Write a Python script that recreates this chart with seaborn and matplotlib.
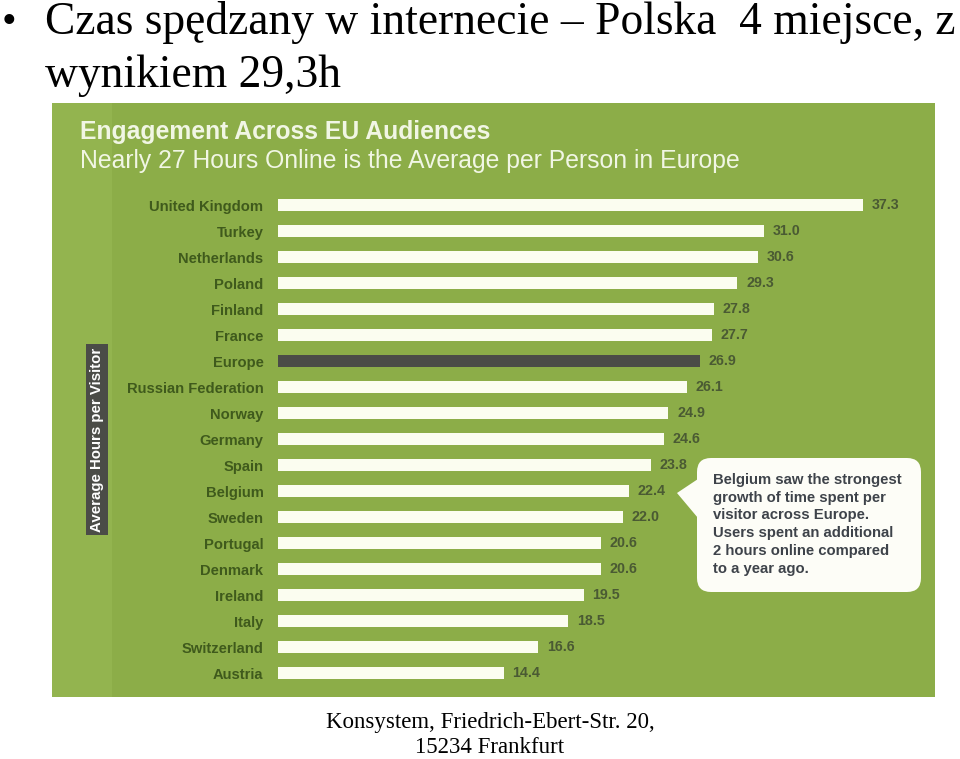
import matplotlib
matplotlib.use("Agg")
import matplotlib.pyplot as plt
import seaborn as sns
import pandas as pd
from matplotlib.patches import Rectangle, FancyBboxPatch, Polygon

# ---- data ----
countries = ["United Kingdom", "Turkey", "Netherlands", "Poland", "Finland", "France",
             "Europe", "Russian Federation", "Norway", "Germany", "Spain", "Belgium",
             "Sweden", "Portugal", "Denmark", "Ireland", "Italy", "Switzerland", "Austria"]
hours = [37.3, 31.0, 30.6, 29.3, 27.8, 27.7, 26.9, 26.1, 24.9, 24.6, 23.8, 22.4,
         22.0, 20.6, 20.6, 19.5, 18.5, 16.6, 14.4]
value_labels = ["37.3", "31.0", "30.6", "29.3", "27.8", "27.7", "26.9", "26.1", "24.9",
                "24.6", "23.8", "22.4", "22.0", "20.6", "20.6", "19.5", "18.5", "16.6", "14.4"]
highlight = "Europe"

slide_title_1 = "Czas spędzany w internecie – Polska  4 miejsce, z"
slide_title_2 = "wynikiem 29,3h"
chart_title = "Engagement Across EU Audiences"
chart_subtitle = "Nearly 27 Hours Online is the Average per Person in Europe"
axis_label = "Average Hours per Visitor"
callout = ("Belgium saw the strongest\ngrowth of time spent per\nvisitor across Europe.\n"
           "Users spent an additional\n2 hours online compared\nto a year ago.")
footer_1 = "Konsystem, Friedrich-Ebert-Str. 20,"
footer_2 = "15234 Frankfurt"

# ---- style ----
GREEN = "#8cad48"
GREEN_L = "#93b44f"
BAR = "#fbfdf0"
DARK = "#4b4c47"
LABEL = "#3f5a1c"

sns.set_theme(style="white")
plt.rcParams["font.family"] = ["Liberation Sans", "DejaVu Sans"]

W, H = 960, 759
fig = plt.figure(figsize=(W / 100, H / 100), dpi=100)
fig.patch.set_facecolor("white")

# pixel-coordinate background axes for decorations
bg = fig.add_axes([0, 0, 1, 1])
bg.set_xlim(0, W)
bg.set_ylim(H, 0)
bg.axis("off")

# green panel
bg.add_patch(Rectangle((52, 103), 883, 594, facecolor=GREEN, edgecolor="none", zorder=0))
bg.add_patch(Rectangle((52, 103), 60, 594, facecolor=GREEN_L, edgecolor="none", zorder=0.1))

# slide title
bg.text(2, 33, "•", fontsize=30, family="Liberation Serif", color="black", va="baseline")
bg.text(45, 34, slide_title_1, fontsize=32.8, family="Liberation Serif", color="black", va="baseline")
bg.text(45, 87, slide_title_2, fontsize=32.8, family="Liberation Serif", color="black", va="baseline")

# chart titles
bg.text(80, 139, chart_title, fontsize=17.8, fontweight="bold", color="#f1f6e4", va="baseline")
bg.text(80, 168, chart_subtitle, fontsize=17.8, color="#f1f6e4", va="baseline")

# vertical axis label box
bg.add_patch(Rectangle((86, 344), 22, 191, facecolor=DARK, edgecolor="none", zorder=1))
bg.text(97, 439.5, axis_label, rotation=90, fontsize=10.8, fontweight="bold",
        color="white", ha="center", va="center", zorder=2)

# callout bubble
bg.add_patch(FancyBboxPatch((703, 464), 212, 122, boxstyle="round,pad=6,rounding_size=14",
                            facecolor="#fdfdf7", edgecolor="none", zorder=1))
bg.add_patch(Polygon([(677, 493), (698, 479), (698, 518)], closed=True,
                     facecolor="#fdfdf7", edgecolor="none", zorder=1))
bg.text(713, 473, callout, fontsize=10.7, fontweight="bold", color="#3e434a",
        va="top", ha="left", linespacing=1.34, zorder=2)

# footer
bg.text(490, 728, footer_1, fontsize=16.5, family="Liberation Serif", color="black",
        ha="center", va="baseline")
bg.text(490, 753, footer_2, fontsize=16.5, family="Liberation Serif", color="black",
        ha="center", va="baseline")

# ---- bar chart ----
left_px, right_px, top_px, bot_px = 278, 935, 192, 686
ax = fig.add_axes([left_px / W, 1 - bot_px / H, (right_px - left_px) / W, (bot_px - top_px) / H])
ax.patch.set_alpha(0)

df = pd.DataFrame({"country": countries, "hours": hours})
palette = {c: (DARK if c == highlight else BAR) for c in countries}
sns.barplot(data=df, x="hours", y="country", hue="country", palette=palette,
            orient="h", width=0.43, legend=False, ax=ax, saturation=1,
            linewidth=0, edgecolor="none")

ax.set_xlim(0, (right_px - left_px) / 15.68)
ax.set_ylim(len(countries) - 0.5, -0.5)
ax.set_xlabel("")
ax.set_ylabel("")
ax.set_xticks([])
for s in ax.spines.values():
    s.set_visible(False)
ax.tick_params(axis="y", length=0, pad=10.5)
for lbl in ax.get_yticklabels():
    lbl.set_fontsize(10.6)
    lbl.set_fontweight("bold")
    lbl.set_color(LABEL)

for i, (v, t) in enumerate(zip(hours, value_labels)):
    ax.text(v + 0.55, i, t, fontsize=10.3, fontweight="bold", color="#4a5a33",
            va="center", ha="left")

fig.savefig("out.png", dpi=100, facecolor="white")
